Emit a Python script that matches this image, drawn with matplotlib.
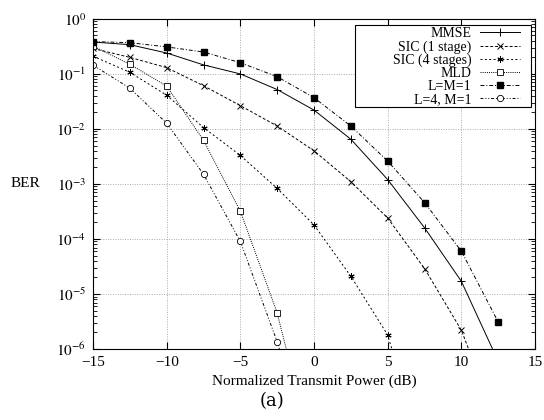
import matplotlib
matplotlib.use("Agg")
import matplotlib.pyplot as plt
from matplotlib.patches import Rectangle
import numpy as np

# normalized transmit power (dB)
snr = [-15, -12.5, -10, -7.5, -5, -2.5, 0, 2.5, 5, 7.5, 10, 12.5]

ber_mmse = [0.38, 0.34, 0.24, 0.146, 0.1, 0.052, 0.022, 0.0065, 0.0012, 1.6e-4, 1.7e-5, 6e-7]
ber_sic1 = [0.29, 0.20, 0.13, 0.061, 0.0265, 0.0113, 0.004, 0.0011, 2.4e-4, 2.9e-5, 2.2e-6, 4e-8]
ber_sic4 = [0.21, 0.107, 0.041, 0.0106, 0.0033, 8.3e-4, 1.8e-4, 2.1e-5, 1.8e-6, 1e-8]
ber_mld = [0.32, 0.15, 0.06, 0.0062, 3.2e-4, 4.5e-6, 1e-8]
ber_lm1 = [0.387, 0.37, 0.31, 0.25, 0.16, 0.089, 0.037, 0.0113, 0.0026, 4.6e-4, 6e-5, 3.1e-6]
ber_l4 = [0.144, 0.055, 0.0127, 0.0015, 9e-5, 1.35e-6, 1e-8]

plt.rcParams['font.family'] = ['Liberation Serif', 'DejaVu Serif']
plt.rcParams['mathtext.fontset'] = 'stix'

fig = plt.figure(figsize=(5.44, 4.20), dpi=100)
ax = fig.add_axes([0.171, 0.169, 0.8125, 0.786])

lw = 0.7
ms = 4.5
ax.plot(snr, ber_mmse, color='black', lw=lw, ls='-', marker='+', ms=ms + 1, mew=0.7, label='MMSE')
ax.plot(snr[:len(ber_sic1)], ber_sic1, color='black', lw=lw, dashes=(3, 2), marker='x', ms=ms, mew=0.7,
        label='SIC (1 stage)')
ax.plot(snr[:len(ber_sic4)], ber_sic4, color='black', lw=lw, dashes=(2, 2.5), marker=(6, 2, 0), ms=ms,
        mew=0.7, label='SIC (4 stages)')
ax.plot(snr[:len(ber_mld)], ber_mld, color='black', lw=lw, dashes=(1, 1.2), marker='s', ms=ms, mew=0.6,
        mfc='white', label='MLD')
ax.plot(snr, ber_lm1, color='black', lw=lw, dashes=(4, 2, 1, 2), marker='s', ms=ms, mfc='black',
        label='L=M=1')
ax.plot(snr[:len(ber_l4)], ber_l4, color='black', lw=lw, dashes=(3, 2, 1, 2, 1, 2), marker='o', ms=ms,
        mew=0.6, mfc='white', label='L=4, M=1')

ax.set_yscale('log')
ax.set_xlim(-15, 15)
ax.set_ylim(1e-6, 1)
ax.set_xticks([-15, -10, -5, 0, 5, 10, 15])
ax.set_yticks([1e-6, 1e-5, 1e-4, 1e-3, 1e-2, 1e-1, 1])
ax.set_yticklabels([r'$10^{-6}$', r'$10^{-5}$', r'$10^{-4}$', r'$10^{-3}$', r'$10^{-2}$',
                    r'$10^{-1}$', r'$10^{0}$'])
ax.tick_params(which='both', direction='in', top=True, right=True, labelsize=11)
ax.tick_params(axis='x', pad=5)
ax.tick_params(axis='y', pad=5)
ax.tick_params(which='major', length=5)
ax.tick_params(which='minor', length=3)
ax.grid(True, which='major', color='#aaaaaa', ls=(0, (1, 1.5)), lw=0.7)

ax.set_xlabel('Normalized Transmit Power (dB)', fontsize=11, labelpad=4)
ax.set_ylabel('BER', fontsize=11, rotation=0, labelpad=22, va='center')

# gnuplot style key: wide box, labels right aligned next to the samples
leg = ax.legend(loc='upper right', bbox_to_anchor=(0.966, 0.975), markerfirst=False, frameon=False,
                fontsize=10, handlelength=2.9, labelspacing=0.0, borderaxespad=0.0,
                handletextpad=0.6, borderpad=0.0)
ax.add_patch(Rectangle((0.593, 0.733), 0.398, 0.249, transform=ax.transAxes, fill=True,
                       facecolor='white', edgecolor='black', lw=0.8, zorder=4))
leg.set_zorder(5)

fig.text(0.5, 0.045, '(a)', ha='center', va='center', fontsize=13, family='DejaVu Serif')

fig.savefig('out.png', dpi=100)
